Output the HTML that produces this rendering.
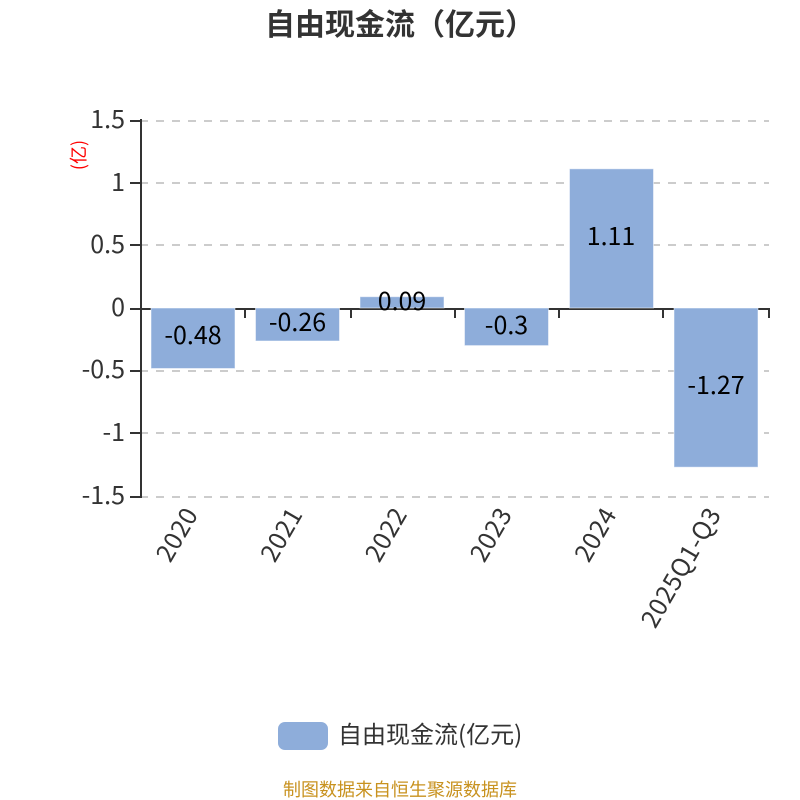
<!DOCTYPE html>
<html><head><meta charset="utf-8"><style>
html,body{margin:0;padding:0;background:#fff}
svg{display:block}
text{font-family:"Noto Sans CJK SC","Liberation Sans",sans-serif}
</style></head><body>
<svg width="800" height="800" viewBox="0 0 800 800" xmlns="http://www.w3.org/2000/svg">
<text x="400" y="35" text-anchor="middle" font-size="30" font-weight="700" fill="#333">自由现金流（亿元）</text>
<g stroke="#ccc" stroke-width="2" stroke-dasharray="8 8" fill="none">
<path d="M140 121H769M140 183H769M140 245H769M140 371H769M140 433H769M140 497H769"/>
</g>
<text transform="translate(85,155) rotate(-90)" text-anchor="middle" font-size="18" fill="#f00">(亿)</text>
<g stroke="#333" stroke-width="2" fill="none">
<path d="M141 119V498"/>
<path d="M130 121H141M130 183H141M130 245H141M130 309H141M130 371H141M130 433H141M130 497H141"/>
<path d="M141 309H770"/>
<path d="M245 309V318M351 309V318M455 309V318M559 309V318M663 309V318M769 309V318"/>
</g>
<g fill="#8eadda" stroke="#fff" stroke-opacity=".5" stroke-width="1">
<rect x="151" y="308" width="84" height="60.500"/>
<rect x="255.500" y="308" width="84" height="33"/>
<rect x="360" y="296.700" width="84" height="11.300"/>
<rect x="464.500" y="308" width="84" height="37.600"/>
<rect x="569.500" y="168.800" width="84" height="139.200"/>
<rect x="674" y="308" width="84" height="159.200"/>
</g>
<g font-size="25" fill="#333" text-anchor="end">
<text x="125" y="128">1.5</text>
<text x="125" y="191">1</text>
<text x="125" y="253">0.5</text>
<text x="125" y="316">0</text>
<text x="125" y="378">-0.5</text>
<text x="125" y="441">-1</text>
<text x="125" y="504">-1.5</text>
</g>
<g font-size="25" fill="#000" text-anchor="middle">
<text x="193" y="344">-0.48</text>
<text x="297.500" y="331">-0.26</text>
<text x="402" y="310">0.09</text>
<text x="506.500" y="334">-0.3</text>
<text x="611" y="245">1.11</text>
<text x="716" y="394">-1.27</text>
</g>
<g font-size="25" fill="#333" text-anchor="end" letter-spacing=".5">
<text transform="translate(199,514) rotate(-60)">2020</text>
<text transform="translate(303.500,514) rotate(-60)">2021</text>
<text transform="translate(408,514) rotate(-60)">2022</text>
<text transform="translate(513,514) rotate(-60)">2023</text>
<text transform="translate(617.500,514) rotate(-60)">2024</text>
<text transform="translate(722,514) rotate(-60)">2025Q1-Q3</text>
</g>
<rect x="278" y="722" width="50" height="28" rx="7" fill="#8eadda"/>
<text x="338" y="743" font-size="24" fill="#333">自由现金流(亿元)</text>
<text x="400" y="796" text-anchor="middle" font-size="18" fill="#c8921f">制图数据来自恒生聚源数据库</text>
</svg>
</body></html>
